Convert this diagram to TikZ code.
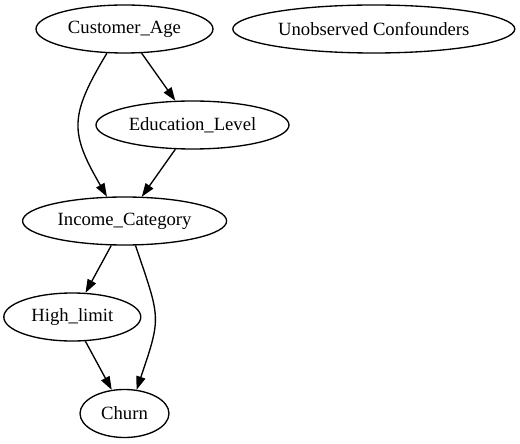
\documentclass[tikz,border=0pt]{standalone}
\usepackage{fontspec}
\setmainfont{Liberation Serif}
\usetikzlibrary{arrows.meta,shapes.geometric}

\begin{document}
\begin{tikzpicture}[x=0.75pt, y=0.75pt,
    var/.style={draw, ellipse, line width=1pt, minimum height=36pt, inner sep=0pt,
      font=\fontsize{14}{16}\selectfont},
    edge/.style={line width=1pt, -{Triangle[length=10pt, width=7pt]}}]
      \useasboundingbox (0,0) rectangle (520,443);

      % Variables
      \node[var, minimum width=132.75pt] (age) at (124.5,414) {Customer\_Age};
      \node[var, minimum width=211.5pt] (unobs) at (373.8,414) {Unobserved Confounders};
      \node[var, minimum width=144.75pt] (edu) at (192.5,318) {Education\_Level};
      \node[var, minimum width=153pt] (income) at (124.6,222) {Income\_Category};
      \node[var, minimum width=102.75pt] (high) at (72.3,126) {High\_limit};
      \node[var, minimum width=66.75pt] (churn) at (124.5,29.5) {Churn};

      % Causal edges
      \draw[edge] (age) -- (edu);
      \draw[edge] (age.234) .. controls +(-38,-63) and +(-37,64) .. (income.126);
      \draw[edge] (edu) -- (income);
      \draw[edge] (income) -- (high);
      \draw[edge] (income.294) .. controls +(25,-74) and +(25,74) .. (churn.63);
      \draw[edge] (high) -- (churn);
    \end{tikzpicture}
\end{document}
